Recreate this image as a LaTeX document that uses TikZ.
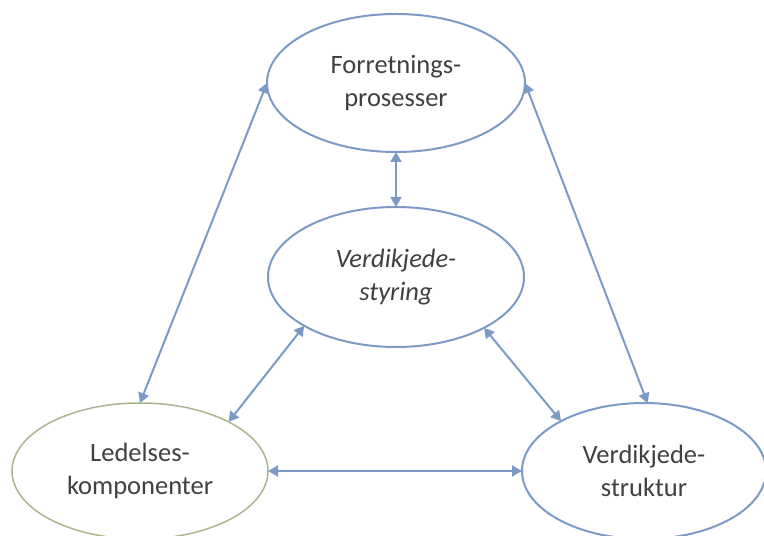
\documentclass[tikz,border=0pt]{standalone}
\usepackage{fontspec}
\setmainfont{Carlito}
\usetikzlibrary{shapes.geometric,arrows.meta}
\definecolor{linkblue}{HTML}{7B9BC6}
\definecolor{sage}{HTML}{A7B68F}
\definecolor{txt}{HTML}{404040}
\begin{document}
\begin{tikzpicture}[x=1pt,y=1pt,
  oval/.style={ellipse, draw=linkblue, line width=2pt, inner sep=0pt, outer sep=0pt,
    align=center, text=txt, font=\fontsize{26.5}{33}\selectfont},
  link/.style={draw=linkblue, line width=2pt,
    {Triangle[length=10pt,width=11pt]}-{Triangle[length=10pt,width=11pt]}}]
\useasboundingbox (0,0) rectangle (764,536);
\node[oval, minimum width=258pt, minimum height=138pt] (top) at (396,453) {Forretnings-\\prosesser};
\node[oval, minimum width=256pt, minimum height=140pt] (mid) at (396,259) {\itshape Verdikjede-\\\itshape styring};
\node[oval, draw=sage, line width=1.5pt, minimum width=256pt, minimum height=136pt] (bl) at (140,65) {Ledelses-\\komponenter};
\node[oval, minimum width=244pt, minimum height=136pt] (br) at (644,65) {Verdikjede-\\struktur};
\path[link] (top.west) -- (bl.north);
\path[link] (top.east) -- (br.87);
\path[link] (top.south) -- (mid.north);
\path[link] (mid.208) -- (bl.29);
\path[link] (mid.330) -- (br.149);
\path[link] (bl.east) -- (br.west);
\end{tikzpicture}
\end{document}
